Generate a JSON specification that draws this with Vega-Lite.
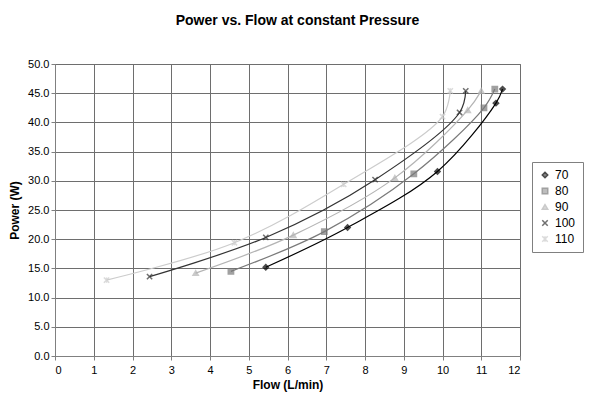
{
  "$schema": "https://vega.github.io/schema/vega-lite/v6.json",
  "width": 465,
  "height": 292,
  "autosize": {"type": "none"},
  "padding": {"left": 55, "top": 64, "right": 81, "bottom": 50},
  "background": "white",
  "title": {"text": "Power vs. Flow at constant Pressure", "anchor": "middle", "frame": "group", "dx": 10, "offset": 30, "font": "Liberation Sans", "fontSize": 14, "fontWeight": "bold", "color": "#000"},
  "config": {
    "view": {"stroke": "#808080", "strokeWidth": 1},
    "axis": {"labelFont": "Liberation Sans", "labelFontSize": 11, "labelColor": "#000", "titleFont": "Liberation Sans", "titleFontSize": 12, "titleFontWeight": "bold", "titleColor": "#000", "gridColor": "#6e6e6e", "gridOpacity": 1, "gridWidth": 1, "domainColor": "#808080", "tickColor": "#808080", "tickSize": 4},
    "legend": {"orient": "none", "legendX": 477, "legendY": 98, "strokeColor": "#808080", "padding": 7, "labelFont": "Liberation Sans", "labelFontSize": 12, "labelColor": "#000", "rowPadding": 4, "symbolSize": 30, "title": null}
  },
  "data": {"values": [
    {"s": "70", "x": 5.44, "y": 15.2}, {"s": "70", "x": 7.55, "y": 22.0}, {"s": "70", "x": 9.87, "y": 31.6}, {"s": "70", "x": 11.38, "y": 43.3}, {"s": "70", "x": 11.55, "y": 45.7},
    {"s": "80", "x": 4.54, "y": 14.5}, {"s": "80", "x": 6.95, "y": 21.3}, {"s": "80", "x": 9.26, "y": 31.2}, {"s": "80", "x": 11.07, "y": 42.5}, {"s": "80", "x": 11.35, "y": 45.7},
    {"s": "90", "x": 3.63, "y": 14.2}, {"s": "90", "x": 6.15, "y": 20.7}, {"s": "90", "x": 8.77, "y": 30.5}, {"s": "90", "x": 10.65, "y": 42.1}, {"s": "90", "x": 11.0, "y": 45.4},
    {"s": "100", "x": 2.44, "y": 13.6}, {"s": "100", "x": 5.44, "y": 20.3}, {"s": "100", "x": 8.26, "y": 30.2}, {"s": "100", "x": 10.44, "y": 41.7}, {"s": "100", "x": 10.6, "y": 45.4},
    {"s": "110", "x": 1.33, "y": 13.0}, {"s": "110", "x": 4.63, "y": 19.4}, {"s": "110", "x": 7.45, "y": 29.4}, {"s": "110", "x": 10.0, "y": 41.0}, {"s": "110", "x": 10.2, "y": 45.4}
  ]},
  "encoding": {
    "x": {"field": "x", "type": "quantitative", "scale": {"domain": [0, 12], "nice": false}, "axis": {"values": [0,1,2,3,4,5,6,7,8,9,10,11,12], "title": "Flow (L/min)", "titlePadding": 4, "labelPadding": 4}},
    "y": {"field": "y", "type": "quantitative", "scale": {"domain": [0, 50], "nice": false}, "axis": {"values": [0,5,10,15,20,25,30,35,40,45,50], "format": ".1f", "title": "Power (W)", "titlePadding": 6}}
  },
  "layer": [
    {
      "mark": {"type": "line", "interpolate": "catmull-rom", "strokeWidth": 1.2},
      "encoding": {
        "stroke": {"field": "s", "type": "nominal", "scale": {"domain": ["70","80","90","100","110"], "range": ["#000000","#7a7a7a","#b4b4b4","#333333","#cccccc"]}},
        "order": {"field": "x", "type": "quantitative"}
      }
    },
    {
      "mark": {"type": "point", "filled": false, "strokeWidth": 1.5},
      "encoding": {
        "stroke": {"field": "s", "type": "nominal"},
        "fill": {"field": "s", "type": "nominal", "scale": {"domain": ["70","80","90","100","110"], "range": ["#000000","#7a7a7a","#b4b4b4","transparent","transparent"]}},
        "shape": {"field": "s", "type": "nominal", "scale": {"domain": ["70","80","90","100","110"], "range": ["diamond","square","triangle-up","M-1,-1L1,1M-1,1L1,-1","M-1,-1L1,1M-1,1L1,-1M0,-1L0,1"]}},
        "size": {"value": 28}
      }
    }
  ]
}
